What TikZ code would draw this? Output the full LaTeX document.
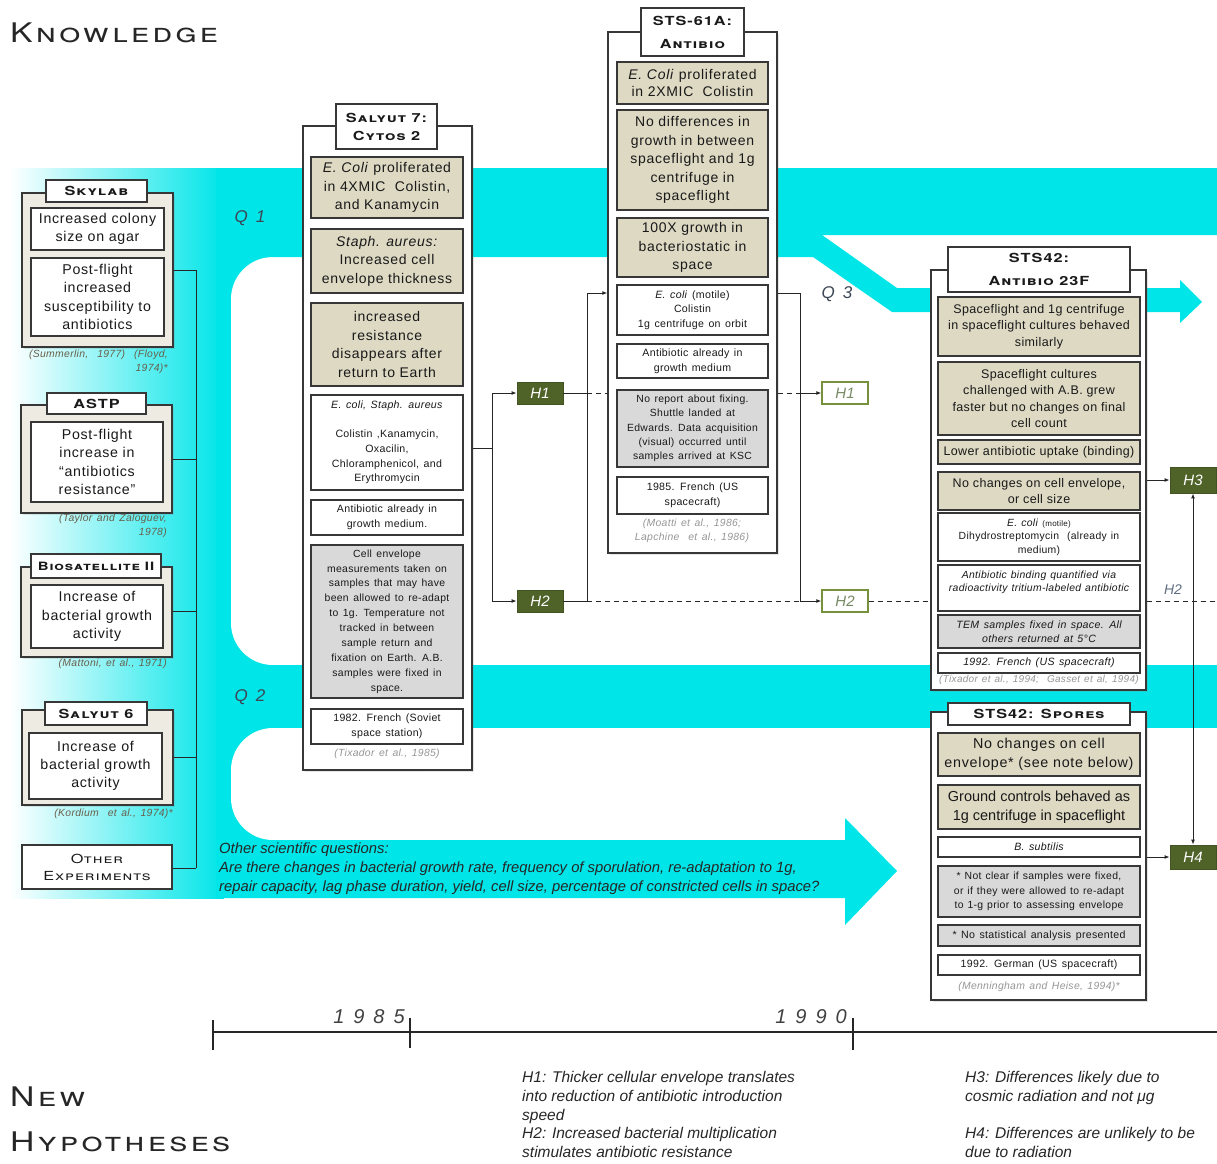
\documentclass[tikz,border=0pt]{standalone}
\usepackage{fontspec}
\setmainfont{Liberation Sans}
\usetikzlibrary{arrows.meta,shadows}
\newfontfamily\bodyf{Liberation Sans}[LetterSpace=5]
\newfontfamily\midf{Liberation Sans}[LetterSpace=3]
\newfontfamily\plainf{Liberation Sans}
\newfontfamily\smallf{Liberation Sans}[LetterSpace=3]
\newfontfamily\capf{TeX Gyre Heros}[FakeStretch=1.25,LetterSpace=12]
\newfontfamily\hdrf{TeX Gyre Heros}[FakeStretch=1.3,LetterSpace=8]
\newfontfamily\yearf{Liberation Sans}[LetterSpace=45]
\newfontfamily\qf{Liberation Sans}[LetterSpace=20]

% wider word spacing for the small print
\newcommand\widesp{\spaceskip=4.5pt plus 1pt\relax}
\newcommand\midsp{\spaceskip=4pt plus 1pt\relax}

\definecolor{cyanc}{RGB}{0,229,232}
\definecolor{tanc}{RGB}{221,217,195}
\definecolor{greyc}{RGB}{217,217,217}
\definecolor{outc}{RGB}{238,236,226}
\definecolor{bordc}{RGB}{55,55,55}
\definecolor{hgreen}{RGB}{79,98,40}
\definecolor{holive}{RGB}{118,146,60}
\definecolor{htext}{RGB}{120,138,100}
\definecolor{citec}{RGB}{105,95,75}
\definecolor{citeg}{RGB}{150,150,150}
\definecolor{qc}{RGB}{60,70,85}
\definecolor{txtc}{RGB}{25,25,25}
\definecolor{tagc}{RGB}{95,110,130}

\tikzset{
  frame/.style={draw=bordc, line width=1.3pt, inner sep=0pt, align=center, text=txtc},
  tanbox/.style={frame, fill=tanc},
  whitebox/.style={frame, fill=white},
  greybox/.style={frame, fill=greyc},
  outerbox/.style={frame, fill=white, drop shadow={opacity=0.2, shadow xshift=2pt, shadow yshift=-2pt}},
  leftouter/.style={outerbox, fill=outc},
  header/.style={frame, fill=white, font=\hdrf\bfseries\scshape\fontsize{12.5}{18}\selectfont},
  header2/.style={frame, fill=white, font=\hdrf\bfseries\scshape\fontsize{12.5}{23}\selectfont},
  bigtxt/.style={font=\bodyf\fontsize{14.2}{18.3}\selectfont},
  midtxt/.style={font=\bodyf\fontsize{14}{18.6}\selectfont},
  tighttxt/.style={font=\midf\fontsize{12.5}{16.6}\selectfont},
  smalltxt/.style={font=\smallf\fontsize{10.6}{14.6}\selectfont\widesp},
  smallit/.style={font=\smallf\itshape\fontsize{10.6}{13.6}\selectfont\widesp},
  cite/.style={font=\smallf\itshape\fontsize{10.4}{13.5}\selectfont\widesp, text=citec, inner sep=0pt, align=right},
  citelight/.style={font=\smallf\itshape\fontsize{10.4}{14.5}\selectfont\widesp, text=citeg, inner sep=0pt, align=center},
  hbox/.style={fill=hgreen, draw=hgreen!85!black, line width=0.8pt, inner sep=0pt, text=white, font=\plainf\itshape\fontsize{15}{15}\selectfont},
  hout/.style={fill=white, draw=holive, line width=1.3pt, inner sep=0pt, text=htext, font=\plainf\itshape\fontsize{15}{15}\selectfont},
  conn/.style={draw=black!85, line width=1pt},
  arr/.style={conn, -{Latex[length=5pt,width=4pt]}},
  dashconn/.style={conn, dash pattern=on 5pt off 4pt},
  qlab/.style={font=\qf\itshape\fontsize{17}{17}\selectfont, text=qc, inner sep=0pt},
  yearlab/.style={font=\yearf\itshape\fontsize{20}{20}\selectfont, text=black!75, inner sep=0pt},
  titlelab/.style={font=\capf\scshape\fontsize{27}{27}\selectfont, text=black!85, inner sep=0pt, anchor=base west},
  notetxt/.style={font=\plainf\itshape\fontsize{14.8}{18.8}\selectfont, text=black!85, inner sep=0pt, align=left, anchor=north west},
  hyptxt/.style={notetxt, font=\plainf\itshape\fontsize{15.5}{18.8}\selectfont},
}

% box spanning two corners: style, {x1,y1}, {x2,y2}, name, text
\def\bxi#1#2,#3;#4,#5;#6#7{%
  \node[#1, minimum width={(#4-#2)*1pt}, minimum height={(#5-#3)*1pt}]
    (#6) at ({(#2+#4)/2},{(#3+#5)/2}) {#7};}
\newcommand\bx[5]{\bxi{#1}#2;#3;{#4}{#5}}

\begin{document}
\begin{tikzpicture}[x=1pt,y=-1pt]
\useasboundingbox (0,0) rectangle (1217,1163);

% ---------- cyan question bands ----------
\fill[left color=white, right color=cyanc] (10,168) rectangle (224,898);
\fill[cyanc] (216,168) rectangle (306,898);
\fill[white, rounded corners=42pt] (231,257) rectangle (420,665);
\fill[white, rounded corners=42pt] (231,728) rectangle (420,840);
% Q1 band with the Q3 branch
\fill[cyanc] (216,168) -- (1217,168) -- (1217,235) -- (822,235) -- (897,288)
  -- (1180,288) -- (1180,280) -- (1202,302) -- (1180,323) -- (1180,312)
  -- (892,312) -- (813,257) -- (216,257) -- cycle;
% Q2 band
\fill[cyanc] (216,665) rectangle (1217,728);
% other questions band
\fill[cyanc] (216,840) -- (845,840) -- (845,818) -- (897,871) -- (845,925)
  -- (845,898) -- (216,898) -- cycle;

% ---------- titles ----------
\node[titlelab] (tknow) at (10,42) {Knowledge};
\node[titlelab] (tnew) at (10,1106) {New};
\node[titlelab] (thyp) at (10,1151) {Hypotheses};

\node[qlab] (q1) at (250,218) {Q 1};
\node[qlab] (q2) at (250,697) {Q 2};
\node[qlab] (q3) at (837,294) {Q 3};

% ---------- early missions ----------
\bx{leftouter}{22,193}{173,347}{skyo}{}
\bx{header}{46,180}{147,202}{skyh}{Skylab}
\bx{whitebox,bigtxt}{31,208}{164,250}{sky1}{Increased colony\\size on agar}
\bx{whitebox,bigtxt}{31,258}{164,336}{sky2}{Post-flight\\increased\\susceptibility to\\antibiotics}
\node[cite, anchor=north east] (skyc) at (168,350) {(Summerlin,\ \ 1977)\ \ (Floyd,\\1974)*};

\bx{leftouter}{21,405}{172,513}{astpo}{}
\bx{header}{47,393}{146,414}{astph}{ASTP}
\bx{whitebox,bigtxt}{31,422}{163,502}{astp1}{Post-flight\\increase in\\“antibiotics\\resistance”}
\node[cite, anchor=north east] (astpc) at (167,514) {(Taylor and Zaloguev,\\1978)};

\bx{leftouter}{21,567}{172,657}{bioo}{}
\bx{header,font=\hdrf\bfseries\scshape\fontsize{11.5}{18}\selectfont}{31,554}{161,578}{bioh}{Biosatellite II}
\bx{whitebox,bigtxt}{31,585}{163,648}{bio1}{Increase of\\bacterial growth\\activity}
\node[cite, anchor=north east] (bioc) at (167,659) {(Mattoni, et al., 1971)};

\bx{leftouter}{22,710}{173,805}{s6o}{}
\bx{header}{45,702}{147,725}{s6h}{Salyut 6}
\bx{whitebox,bigtxt}{29,733}{162,799}{s61}{Increase of\\bacterial growth\\activity}
\node[cite, anchor=north east] (s6c) at (173,809) {(Kordium\ \ et al., 1974)*};

\bx{whitebox,font=\hdrf\scshape\fontsize{12.5}{17}\selectfont}{22,845}{172,889}{oth}{Other\\Experiments}

% bracket joining the early missions
\coordinate (lb1) at (196,270);
\coordinate (lb2) at (196,459);
\coordinate (lb3) at (196,611);
\coordinate (lb4) at (196,757);
\coordinate (lb5) at (196,868);
\draw[conn] (lb1) -- (lb5);
\draw[conn] (skyo.east |- lb1) -- (lb1);
\draw[conn] (astpo.east |- lb2) -- (lb2);
\draw[conn] (bioo.east |- lb3) -- (lb3);
\draw[conn] (s6o.east |- lb4) -- (lb4);
\draw[conn] (oth.east |- lb5) -- (lb5);

% ---------- Salyut 7 ----------
\bx{outerbox}{303,126}{472,770}{s7o}{}
\bx{header}{336,104}{437,149}{s7h}{Salyut 7:\\Cytos 2}
\bx{tanbox,midtxt}{311,157}{463,218}{s7a}{\textit{E. Coli} proliferated\\in 4XMIC\ \ Colistin,\\and Kanamycin}
\bx{tanbox,midtxt}{311,229}{463,293}{s7b}{\textit{Staph. aureus:}\\Increased cell\\envelope thickness}
\bx{tanbox,midtxt}{311,303}{463,386}{s7c}{increased\\resistance\\disappears after\\return to Earth}
\bx{whitebox,smalltxt}{311,395}{463,490}{s7d}{\textit{E. coli, Staph. aureus}\\[14.5pt]Colistin ,Kanamycin,\\Oxacilin,\\Chloramphenicol, and\\Erythromycin}
\bx{whitebox,smalltxt}{311,500}{463,535}{s7e}{Antibiotic already in\\growth medium.}
\bx{greybox,font=\smallf\fontsize{10.4}{14.9}\selectfont\widesp}{311,545}{463,698}{s7f}{Cell envelope\\measurements taken on\\samples that may have\\been allowed to re-adapt\\to 1g. Temperature not\\tracked in between\\sample return and\\fixation on Earth. A.B.\\samples were fixed in\\space.}
\bx{whitebox,smalltxt}{311,709}{463,744}{s7g}{1982. French (Soviet\\space station)}
\node[citelight] (s7c2) at (387,754) {(Tixador et al., 1985)};

% ---------- STS-61A ----------
\bx{outerbox}{608,32}{777,553}{s61o}{}
\bx{header2}{641,8}{744,56}{s61h}{STS-61A:\\Antibio}
\bx{tanbox,font=\bodyf\fontsize{14}{16.5}\selectfont}{617,62}{768,104}{sta}{\textit{E. Coli} proliferated\\in 2XMIC\ \ Colistin}
\bx{tanbox,midtxt}{617,110}{768,210}{stb}{No differences in\\growth in between\\spaceflight and 1g\\centrifuge in\\spaceflight}
\bx{tanbox,midtxt}{617,218}{768,277}{stc}{100X growth in\\bacteriostatic in\\space}
\bx{whitebox,smalltxt}{617,285}{768,335}{std}{\textit{E. coli} (motile)\\Colistin\\1g centrifuge on orbit}
\bx{whitebox,smalltxt}{617,344}{768,378}{ste}{Antibiotic already in\\growth medium}
\bx{greybox,font=\smallf\fontsize{10.4}{14.3}\selectfont\widesp}{617,390}{768,467}{stf}{No report about fixing.\\Shuttle landed at\\Edwards. Data acquisition\\(visual) occurred until\\samples arrived at KSC}
\bx{whitebox,smalltxt}{617,477}{768,514}{stg}{1985. French (US\\spacecraft)}
\node[citelight] (stc2) at (692,531) {(Moatti et al., 1986;\\Lapchine\ \ et al., 1986)};

% ---------- STS42 Antibio 23F ----------
\bx{outerbox}{931,270}{1146,690}{s42o}{}
\bx{header2}{948,247}{1130,292}{s42h}{STS42:\\Antibio 23F}
\bx{tanbox,tighttxt}{938,297}{1140,356}{ka}{Spaceflight and 1g centrifuge\\in spaceflight cultures behaved\\similarly}
\bx{tanbox,tighttxt}{938,362}{1140,435}{kb}{Spaceflight cultures\\challenged with A.B. grew\\faster but no changes on final\\cell count}
\bx{tanbox,tighttxt}{938,440}{1140,464}{kc}{Lower antibiotic uptake (binding)}
\bx{tanbox,tighttxt}{938,472}{1140,510}{kd}{No changes on cell envelope,\\or cell size}
\bx{whitebox,font=\smallf\fontsize{10.4}{13.6}\selectfont\midsp}{938,513}{1140,561}{ke}{\textit{E. coli} {\fontsize{8}{9}\selectfont(motile)}\\Dihydrostreptomycin\ \ (already in\\medium)}
\bx{whitebox,font=\smallf\itshape\fontsize{10.4}{13.6}\selectfont\midsp}{938,565}{1140,611}{kf}{Antibiotic binding quantified via\\radioactivity tritium-labeled antibiotic\\~}
\bx{greybox,smallit}{938,615}{1140,648}{kg}{TEM samples fixed in space. All\\others returned at 5°C}
\bx{whitebox,smallit}{938,653}{1140,673}{kh}{1992. French (US spacecraft)}
\node[citelight, font=\smallf\itshape\fontsize{10}{14}\selectfont\midsp] (kc2) at (1039,680) {(Tixador et al., 1994;\ \ Gasset et al, 1994)};

% ---------- STS42 Spores ----------
\bx{outerbox}{931,712}{1146,1000}{spo}{}
\bx{header}{948,703}{1130,725}{sph}{STS42: Spores}
\bx{tanbox,font=\bodyf\fontsize{14.3}{19}\selectfont}{938,733}{1140,776}{pa}{No changes on cell\\envelope* (see note below)}
\bx{tanbox,font=\plainf\fontsize{14.5}{18.5}\selectfont}{938,785}{1140,829}{pb}{Ground controls behaved as\\1g centrifuge in spaceflight}
\bx{whitebox,smallit}{938,837}{1140,857}{pc}{B. subtilis}
\bx{greybox,font=\smallf\fontsize{10.4}{14.6}\selectfont\midsp}{938,866}{1140,917}{pd}{* Not clear if samples were fixed,\\or if they were allowed to re-adapt\\to 1-g prior to assessing envelope}
\bx{greybox,smalltxt}{938,925}{1140,946}{pe}{* No statistical analysis presented}
\bx{whitebox,smalltxt}{938,955}{1140,975}{pf}{1992. German (US spacecraft)}
\node[citelight] (pc2) at (1039,987) {(Menningham and Heise, 1994)*};

% ---------- hypotheses boxes ----------
\bx{hbox}{517,382}{563,404}{h1a}{H1}
\bx{hbox}{517,590}{563,612}{h2a}{H2}
\bx{hout}{822,382}{868,404}{h1b}{H1}
\bx{hout}{822,590}{868,612}{h2b}{H2}
\bx{hbox}{1170,467}{1216,493}{h3}{H3}
\bx{hbox}{1170,845}{1216,869}{h4}{H4}

% ---------- connectors ----------
\coordinate (j0) at (492,448);
\coordinate (j1) at (492,393);
\coordinate (j2) at (492,601);
\draw[conn] (s7o.east |- j0) -- (j0);
\draw[conn] (j1) -- (j2);
\draw[arr] (j1) -- (h1a.west);
\draw[arr] (j2) -- (h2a.west);

\coordinate (k0) at (587,293);
\coordinate (k1) at (587,393);
\coordinate (k2) at (587,601);
\draw[conn] (h1a.east) -- (k1);
\draw[dashconn] (k1) -- (k1 -| s61o.west);
\draw[conn] (h2a.east) -- (k2) -- (k0);
\draw[arr] (k0) -- (k0 -| s61o.west);

\coordinate (m0) at (800,293);
\coordinate (m1) at (800,393);
\coordinate (m2) at (800,601);
\draw[dashconn] (k2) -- (m2);
\draw[conn] (s61o.east |- m0) -- (m0) -- (m2);
\draw[dashconn] (s61o.east |- m1) -- (m1);
\draw[arr] (m1) -- (h1b.west);
\draw[arr] (m2) -- (h2b.west);

\coordinate (edgeR) at (1217,601);
\draw[dashconn] (h2b.east) -- (h2b.east -| s42o.west);
\draw[dashconn] (s42o.east |- edgeR) -- (edgeR);
\node[font=\plainf\itshape\fontsize{14}{14}\selectfont, text=tagc, inner sep=0pt] (h2tag) at (1173,590) {H2};

\draw[arr] (s42o.east |- h3.west) -- (h3.west);
\draw[arr] (spo.east |- h4.west) -- (h4.west);
\draw[conn, {Latex[length=5pt,width=4pt]}-{Latex[length=5pt,width=4pt]}] (h3.south) -- (h4.north);

% ---------- other questions ----------
\node[notetxt] (oq) at (219,843) {Other scientific questions:\\Are there changes in bacterial growth rate, frequency of sporulation, re-adaptation to 1g,\\repair capacity, lag phase duration, yield, cell size, percentage of constricted cells in space?};

% ---------- time line ----------
\coordinate (t0) at (213,1032);
\coordinate (t1) at (1217,1032);
\draw[conn, line width=1.2pt] (t0) -- (t1);
\draw[conn, line width=1.2pt] (213,1020) -- (213,1050);
\draw[conn, line width=1.2pt] (410,1018) -- (410,1048);
\draw[conn, line width=1.2pt] (853,1018) -- (853,1050);
\node[yearlab] (y85) at (369,1017) {1985};
\node[yearlab] (y90) at (811,1017) {1990};

% ---------- hypotheses text ----------
\node[hyptxt] (hyp12) at (522,1071) {H1: Thicker cellular envelope translates\\into reduction of antibiotic introduction\\speed\\H2: Increased bacterial multiplication\\stimulates antibiotic resistance};
\node[hyptxt] (hyp34) at (965,1071) {H3: Differences likely due to\\cosmic radiation and not μg\\[18.8pt]H4: Differences are unlikely to be\\due to radiation};
\end{tikzpicture}
\end{document}
